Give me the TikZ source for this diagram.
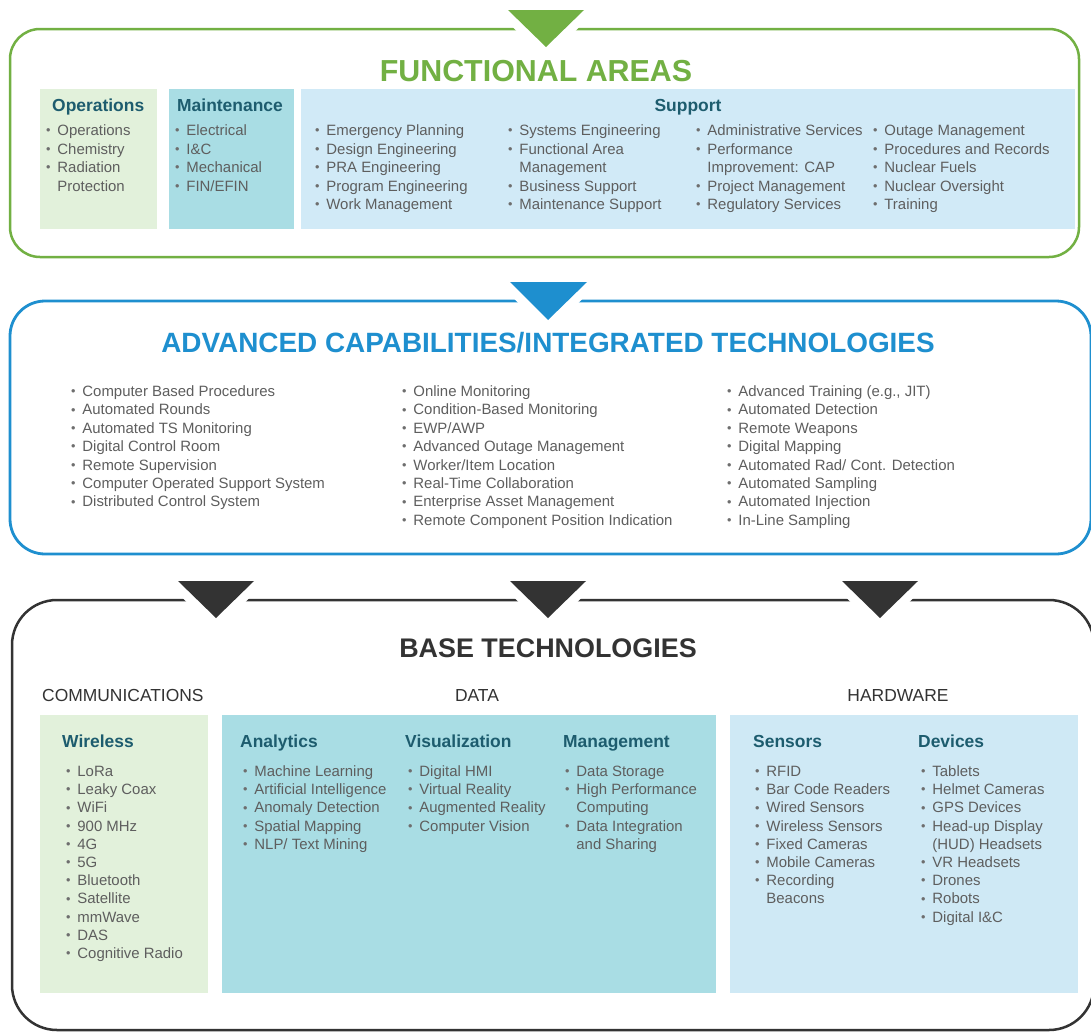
\documentclass[tikz,border=0pt]{standalone}
\usepackage{fontspec}
\setmainfont{Liberation Sans}
\definecolor{fagreen}{HTML}{72B043}
\definecolor{acblue}{HTML}{1E8FCF}
\definecolor{btdark}{HTML}{333333}
\definecolor{lgreen}{HTML}{E2F1DB}
\definecolor{teal}{HTML}{A9DDE4}
\definecolor{lblue}{HTML}{D1EAF7}
\definecolor{hwblue}{HTML}{CFE9F5}
\definecolor{headteal}{HTML}{1D5C6E}
\definecolor{itemgray}{HTML}{5E5E5E}
\definecolor{bulgray}{HTML}{6E6E6E}
\newcommand\bu{\makebox[0.75em][l]{\raisebox{0.05em}{\color{bulgray}\scalebox{0.85}{\textbullet}}}}
\newcommand\cu{\makebox[0.75em]{}}
\newcommand\blist[5]{%
  \foreach \t [count=\i from 0] in {#5} {\node[itemtxt] (#1\i) at ({#2},{#3+\i*#4}) {\t};}%
}
\tikzset{
  x=1bp, y=-1bp,
  itemtxt/.style={anchor=base west, inner sep=0pt, text=itemgray, font=\fontsize{15}{18}\selectfont},
  headtxt/.style={anchor=base west, inner sep=0pt, text=headteal, font=\fontsize{17.5}{20}\selectfont\bfseries},
  sectxt/.style={anchor=base, inner sep=0pt, text=btdark, font=\fontsize{17.5}{20}\selectfont},
  titletxt/.style={anchor=base, inner sep=0pt, font=\bfseries},
  tri/.style={draw=white, line width=18bp, line join=miter},
}
\begin{document}
\begin{tikzpicture}
\useasboundingbox (0,0) rectangle (1091,1032);
\clip (0,0) rectangle (1091,1032);
\fill[white] (0,0) rectangle (1091,1032);

% ---------------- FUNCTIONAL AREAS ----------------
\draw[fagreen, line width=2.5bp, rounded corners=30bp] (10,29) rectangle (1079,257);
\path[tri] (508,10) -- (584,10) -- (546,47) -- cycle;
\fill[fagreen] (508,10) -- (584,10) -- (546,47) -- cycle;
\node[titletxt, text=fagreen, font=\fontsize{30.5}{32}\selectfont\bfseries] (fatitle) at (536,81) {FUNCTIONAL AREAS};

\fill[lgreen] (40,89) rectangle (157,229);
\fill[teal] (169,89) rectangle (294,229);
\fill[lblue] (301,89) rectangle (1075,229);

\node[headtxt] (ophead) at (52,111) {Operations};
\node[headtxt] (mahead) at (177,111) {Maintenance};
\node[headtxt, anchor=base] (suhead) at (688,111) {Support};

\blist{op}{46}{135.5}{18.5}{{\bu Operations},{\bu Chemistry},{\bu Radiation},{\cu Protection}}
\blist{ma}{175}{135.5}{18.5}{{\bu Electrical},{\bu I\&C},{\bu Mechanical},{\bu FIN/EFIN}}
\blist{sa}{315}{135.5}{18.5}{{\bu Emergency Planning},{\bu Design Engineering},{\bu PRA Engineering},{\bu Program Engineering},{\bu Work Management}}
\blist{sb}{508}{135.5}{18.5}{{\bu Systems Engineering},{\bu Functional Area},{\cu Management},{\bu Business Support},{\bu Maintenance Support}}
\blist{sc}{696}{135.5}{18.5}{{\bu Administrative Services},{\bu Performance},{\cu Improvement: CAP},{\bu Project Management},{\bu Regulatory Services}}
\blist{sd}{873}{135.5}{18.5}{{\bu Outage Management},{\bu Procedures and Records},{\bu Nuclear Fuels},{\bu Nuclear Oversight},{\bu Training}}

% ---------------- ADVANCED CAPABILITIES ----------------
\draw[acblue, line width=2.8bp, rounded corners=35bp] (10,301) rectangle (1091,554);
\path[tri] (510,282) -- (587,282) -- (548,320) -- cycle;
\fill[acblue] (510,282) -- (587,282) -- (548,320) -- cycle;
\node[titletxt, text=acblue, font=\fontsize{28}{30}\selectfont\bfseries] (actitle) at (548,352) {ADVANCED CAPABILITIES/INTEGRATED TECHNOLOGIES};

\blist{aa}{71}{396.5}{18.4}{{\bu Computer Based Procedures},{\bu Automated Rounds},{\bu Automated TS Monitoring},{\bu Digital Control Room},{\bu Remote Supervision},{\bu Computer Operated Support System},{\bu Distributed Control System}}
\blist{ab}{402}{396.5}{18.4}{{\bu Online Monitoring},{\bu Condition-Based Monitoring},{\bu EWP/AWP},{\bu Advanced Outage Management},{\bu Worker/Item Location},{\bu Real-Time Collaboration},{\bu Enterprise Asset Management},{\bu Remote Component Position Indication}}
\blist{ac}{727}{396.5}{18.4}{{\bu Advanced Training (e.g., JIT)},{\bu Automated Detection},{\bu Remote Weapons},{\bu Digital Mapping},{\bu Automated Rad/ Cont. Detection},{\bu Automated Sampling},{\bu Automated Injection},{\bu In-Line Sampling}}

% ---------------- BASE TECHNOLOGIES ----------------
\draw[btdark, line width=2.5bp, rounded corners=45bp] (12,600) rectangle (1094,1030);
\foreach \cx/\nm in {216/ta,548/tb,880/tc}{
  \path[tri] (\cx-38,581) -- (\cx+38,581) -- (\cx,618) -- cycle;
  \fill[btdark] (\cx-38,581) -- (\cx+38,581) -- (\cx,618) -- cycle;
}
\node[titletxt, text=btdark, font=\fontsize{27}{29}\selectfont\bfseries] (bttitle) at (548,657) {BASE TECHNOLOGIES};

\node[sectxt, anchor=base west] (comm) at (42,701) {COMMUNICATIONS};
\node[sectxt] (data) at (477,701) {DATA};
\node[sectxt] (hard) at (898,701) {HARDWARE};

\fill[lgreen] (40,715) rectangle (208,993);
\fill[teal] (222,715) rectangle (716,993);
\fill[hwblue] (730,715) rectangle (1078,993);

\node[headtxt] (wihead) at (62,747) {Wireless};
\node[headtxt] (anhead) at (240,747) {Analytics};
\node[headtxt] (vihead) at (405,747) {Visualization};
\node[headtxt] (mghead) at (563,747) {Management};
\node[headtxt] (sehead) at (753,747) {Sensors};
\node[headtxt] (dehead) at (918,747) {Devices};

\blist{wi}{66}{776.5}{18.2}{{\bu LoRa},{\bu Leaky Coax},{\bu WiFi},{\bu 900 MHz},{\bu 4G},{\bu 5G},{\bu Bluetooth},{\bu Satellite},{\bu mmWave},{\bu DAS},{\bu Cognitive Radio}}
\blist{an}{243}{776.5}{18.2}{{\bu Machine Learning},{\bu Artificial Intelligence},{\bu Anomaly Detection},{\bu Spatial Mapping},{\bu NLP/ Text Mining}}
\blist{vi}{408}{776.5}{18.2}{{\bu Digital HMI},{\bu Virtual Reality},{\bu Augmented Reality},{\bu Computer Vision}}
\blist{mg}{565}{776.5}{18.2}{{\bu Data Storage},{\bu High Performance},{\cu Computing},{\bu Data Integration},{\cu and Sharing}}
\blist{se}{755}{776.5}{18.2}{{\bu RFID},{\bu Bar Code Readers},{\bu Wired Sensors},{\bu Wireless Sensors},{\bu Fixed Cameras},{\bu Mobile Cameras},{\bu Recording},{\cu Beacons}}
\blist{de}{921}{776.5}{18.2}{{\bu Tablets},{\bu Helmet Cameras},{\bu GPS Devices},{\bu Head-up Display},{\cu (HUD) Headsets},{\bu VR Headsets},{\bu Drones},{\bu Robots},{\bu Digital I\&C}}
\end{tikzpicture}
\end{document}
